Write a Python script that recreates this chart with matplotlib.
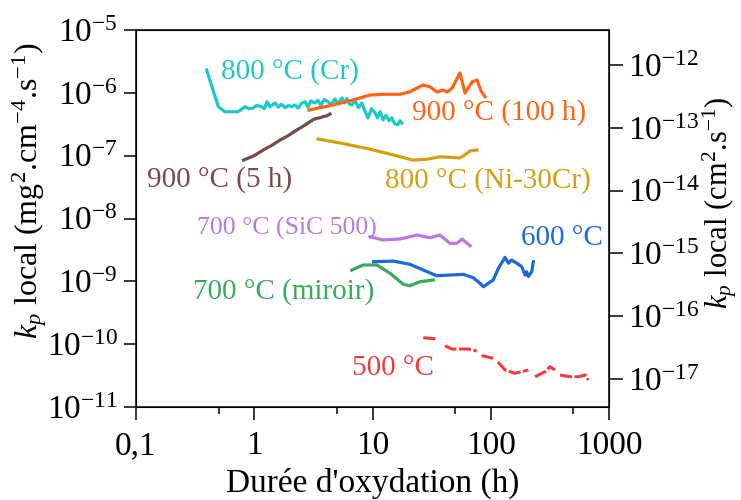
import numpy as np
import matplotlib
matplotlib.use("Agg")
import matplotlib.pyplot as plt

plt.rcParams['font.family'] = ['Liberation Serif', 'DejaVu Serif']
plt.rcParams['mathtext.fontset'] = 'custom'
plt.rcParams['mathtext.rm'] = 'Liberation Serif'
plt.rcParams['mathtext.it'] = 'Liberation Serif:italic'

# durations (h) and local kp (mg2.cm-4.s-1)
t_cr = [0.396, 0.497, 0.566, 0.73, 0.836, 0.9, 0.975, 1.05, 1.16, 1.22, 1.28, 1.36, 1.5, 1.6,
        1.7, 1.82, 1.95, 2.05, 2.21, 2.35, 2.5, 2.69, 2.85, 3.0, 3.26, 3.45, 3.65, 3.9, 4.21,
        4.5, 4.8, 5.1, 5.52, 5.8, 6.1, 6.4, 6.71, 7.1, 7.6, 8.15, 8.6, 9.16, 9.8, 10.5, 11.0,
        11.6, 12.3, 13.0, 13.8, 14.6, 15.4, 16.4, 17.0, 17.7]
kp_cr = [23.1, 6.0, 5.0, 5.0, 6.0, 5.6, 5.7, 6.3, 6.0, 5.6, 7.2, 6.0, 6.9, 5.9, 6.6, 5.8, 6.3,
         6.0, 6.4, 5.7, 6.8, 7.2, 5.9, 7.4, 6.9, 7.6, 6.3, 7.8, 7.2, 6.5, 8.0, 6.8, 8.3, 6.9,
         8.1, 6.6, 6.4, 7.6, 5.8, 6.9, 5.2, 4.0, 5.6, 4.8, 4.0, 5.0, 3.7, 4.4, 3.6, 4.0, 3.2,
         3.1, 3.6, 3.3]
kp_cr = [v * 1e-7 for v in kp_cr]

t_900_5h = [0.811, 1.0, 1.19, 1.4, 1.65, 1.95, 2.29, 2.6, 2.96, 3.2, 3.38, 3.6, 3.81, 4.1, 4.37]
kp_900_5h = [0.85, 1.0, 1.23, 1.45, 1.77, 2.1, 2.56, 2.95, 3.47, 3.8, 3.93, 4.0, 4.17, 4.3, 4.6]
kp_900_5h = [v * 1e-7 for v in kp_900_5h]

t_900_100h = [2.90, 4.63, 6.84, 9.53, 12.3, 17.1, 20.7, 26.7, 30.6, 35.1, 39.5, 42.7, 47.0,
              54.9, 60.6, 69.4, 76.5, 82.7, 89.4]
kp_900_100h = [5.33, 6.4, 7.69, 9.23, 9.48, 9.48, 10.4, 13.3, 12.5, 10.3, 11.1, 10.3, 11.8,
               20.7, 9.9, 14.9, 16.0, 10.7, 8.68]
kp_900_100h = [v * 1e-7 for v in kp_900_100h]

t_ni30cr = [3.46, 4.8, 6.45, 9.0, 12.3, 16.5, 22.0, 29.0, 37.2, 46.0, 54.9, 60.0, 66.8, 76.5]
kp_ni30cr = [1.84, 1.65, 1.48, 1.30, 1.13, 0.98, 0.85, 0.88, 0.96, 0.94, 0.92, 1.02, 1.19, 1.23]
kp_ni30cr = [v * 1e-7 for v in kp_ni30cr]

t_sic500 = [9.53, 12.3, 17.1, 23.8, 30.6, 37.2, 45.2, 51.8, 57.1, 66.8]
kp_sic500 = [5.13, 4.55, 4.72, 5.46, 4.94, 5.46, 4.03, 4.03, 4.72, 3.69]
kp_sic500 = [v * 1e-9 for v in kp_sic500]

t_miroir = [6.67, 8.36, 10.9, 14.1, 18.2, 20.7, 25.2, 32.7]
kp_miroir = [1.51, 1.82, 1.82, 1.34, 0.897, 0.85, 0.986, 1.05]
kp_miroir = [v * 1e-9 for v in kp_miroir]

t_600 = [10.2, 15.0, 20.7, 26.9, 34.9, 45.2, 58.6, 71.2, 81.1, 86.5, 95.3, 105, 116, 132,
         141, 150, 166, 183, 195, 201, 208, 222, 229]
kp_600 = [2.05, 2.10, 1.87, 1.51, 1.23, 1.26, 1.29, 1.14, 0.93, 0.82, 0.93, 1.05, 1.61, 2.41,
          1.94, 2.18, 1.94, 1.71, 1.26, 1.42, 1.19, 1.42, 2.05]
kp_600 = [v * 1e-9 for v in kp_600]

# 500 degC measured in broken stretches (nan = gap)
t_500 = [26.9, 34.9, np.nan, 41.0, 46.8, 64.6, 76.0, np.nan, 83.8, 105, np.nan, 115, 132, 160,
         208, np.nan, 237, 288, 317, 349, np.nan, 385, 468, 550, 627, 668]
kp_500 = [12.7, 12.1, np.nan, 9.45, 8.37, 8.37, 7.78, np.nan, 6.55, 5.96, np.nan, 5.20, 3.88,
          3.44, 3.88, np.nan, 3.03, 3.65, 4.38, 3.88, np.nan, 3.23, 3.03, 3.03, 3.23, 2.69]
kp_500 = [v * 1e-11 for v in kp_500]

# conversion to the right axis (cm2.s-1)
conv = 10 ** -6.443

fig = plt.figure(figsize=(7.41, 5.0), dpi=100)
ax = fig.add_axes([0.1835, 0.186, 0.6384, 0.754])

lw = 2.3
ax.plot(t_cr, kp_cr, color='#1fc8c8', lw=lw)
ax.plot(t_900_5h, kp_900_5h, color='#7a4a4a', lw=lw)
ax.plot(t_900_100h, kp_900_100h, color='#ff6414', lw=lw)
ax.plot(t_ni30cr, kp_ni30cr, color='#d2a010', lw=lw)
ax.plot(t_sic500, kp_sic500, color='#b87ae0', lw=lw)
ax.plot(t_miroir, kp_miroir, color='#3aaa5c', lw=lw)
ax.plot(t_600, kp_600, color='#1f68dc', lw=lw)
ax.plot(t_500, kp_500, color='#f03c3c', lw=2.2, ls=(0, (4, 0.8)))

ax.set_xscale('log')
ax.set_yscale('log')
ax.set_xlim(0.1, 1000)
ax.set_ylim(1e-11, 1e-5)

ax.set_xticks([0.1, 1, 10, 100, 1000], ['0,1', '1', '10', '100', '1000'])
ax.set_xticks([0.5, 5, 50, 500], minor=True)
ax.set_xticklabels([], minor=True)
yexp = [-11, -10, -9, -8, -7, -6, -5]
ax.set_yticks([10.0 ** e for e in yexp], [r'$\mathregular{10^{%d}}$' % e for e in yexp])
ax.yaxis.set_minor_locator(plt.NullLocator())

ax.tick_params(axis='both', which='major', labelsize=24, length=9, width=1.1, pad=4)
ax.tick_params(axis='x', which='minor', length=5, width=1.1)
ax.tick_params(axis='x', pad=8)
for s in ax.spines.values():
    s.set_linewidth(1.1)

ax.set_xlabel("Durée d'oxydation (h)", fontsize=24, labelpad=5)
ax.set_ylabel(r'$k_p$ local (mg$^2$.cm$^{-4}$.s$^{-1}$)', fontsize=23)
ax.yaxis.set_label_coords(-0.184, 0.573)

ax2 = ax.twinx()
ax2.set_yscale('log')
ax2.set_ylim(1e-11 * conv, 1e-5 * conv)
rexp = [-17, -16, -15, -14, -13, -12]
ax2.set_yticks([10.0 ** e for e in rexp], [r'$\mathregular{10^{%d}}$' % e for e in rexp])
ax2.yaxis.set_minor_locator(plt.NullLocator())
ax2.tick_params(axis='y', labelsize=24, length=10, width=1.1, pad=4)
ax2.set_ylabel(r'$k_p$ local (cm$^2$.s$^{-1}$)', fontsize=22)
ax2.yaxis.set_label_coords(1.193, 0.541)

fs = 21
ax.text(0.524, 2.15e-6, '800 °C (Cr)', color='#1fc8c8', fontsize=fs, va='center')
ax.text(21.6, 4.78e-7, '900 °C (100 h)', color='#ff6414', fontsize=fs, va='center')
ax.text(0.124, 4.1e-8, '900 °C (5 h)', color='#7a4a4a', fontsize=fs, va='center')
ax.text(12.8, 3.95e-8, '800 °C (Ni-30Cr)', color='#d2a010', fontsize=fs, va='center')
ax.text(0.328, 7.0e-9, '700 °C (SiC 500)', color='#b87ae0', fontsize=18.5, va='center')
ax.text(180, 4.89e-9, '600 °C', color='#1f68dc', fontsize=fs, va='center')
ax.text(0.303, 6.76e-10, '700 °C (miroir)', color='#3aaa5c', fontsize=fs, va='center')
ax.text(6.71, 4.17e-11, '500 °C', color='#f03c3c', fontsize=fs, va='center')

fig.savefig('out.png', dpi=100)
